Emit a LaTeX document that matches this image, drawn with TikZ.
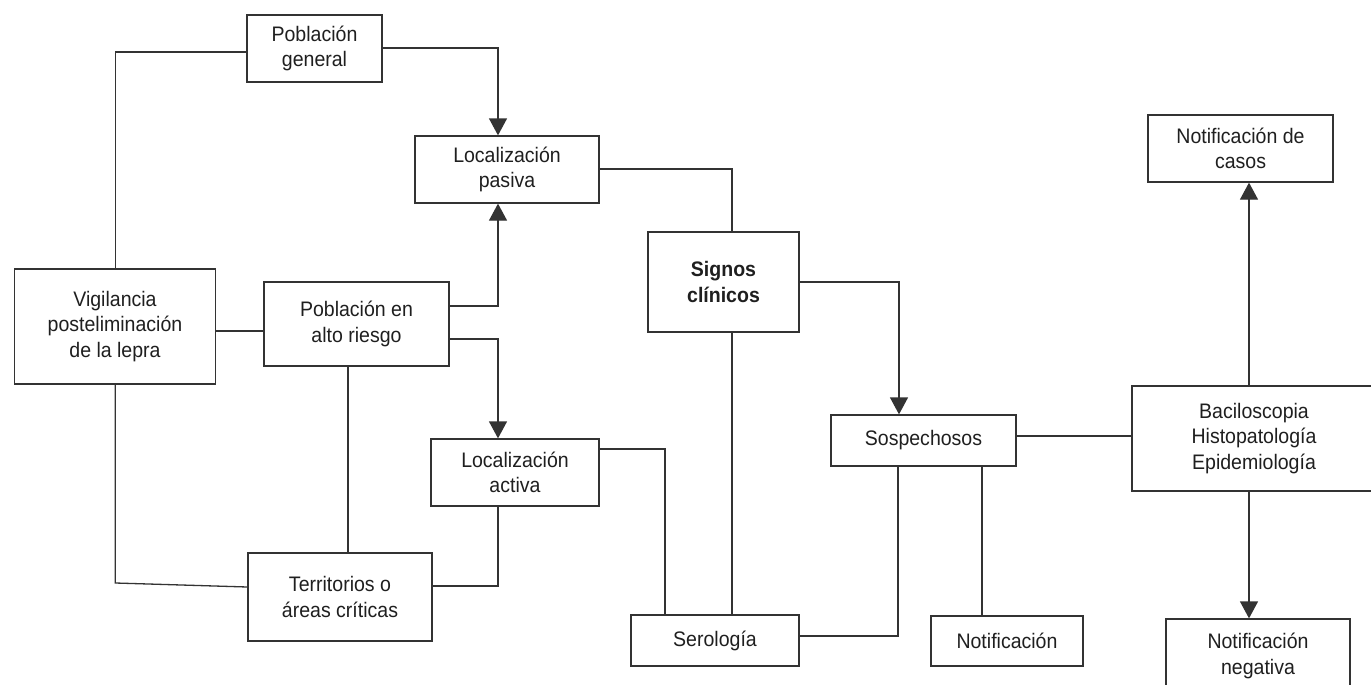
\documentclass[tikz,border=0pt]{standalone}
\usepackage{fontspec}
\setmainfont{Liberation Sans}[FakeStretch=0.93]
\usetikzlibrary{arrows.meta}
\begin{document}
\begin{tikzpicture}[x=1pt,y=-1pt,
  box/.style={draw=black!80, line width=1.3pt, inner sep=0pt, align=center,
    font=\fontsize{21}{25.5}\selectfont, text=black!88},
  conn/.style={draw=black!80, line width=1.3pt},
  arr/.style={conn, -{Triangle[width=18pt,length=17pt]}}]
\fill[white] (0,0) rectangle (1371,685);
\useasboundingbox (0,0) rectangle (1371,685);
\clip (0,0) rectangle (1371,685);

% nodes
\node[box, minimum width=135pt, minimum height=67pt] (pg) at (314.5,48.5) {Población\\general};
\node[box, minimum width=184pt, minimum height=67pt] (lp) at (507,169.5) {Localización\\pasiva};
\node[box, minimum width=201pt, minimum height=115pt] (vig) at (115,326.5) {Vigilancia\\posteliminación\\de la lepra};
\node[box, minimum width=185pt, minimum height=84pt] (par) at (356.5,324) {Población en\\alto riesgo};
\node[box, minimum width=151pt, minimum height=100pt, font=\fontsize{21}{25.5}\selectfont\bfseries] (sc) at (723.5,282) {Signos\\clínicos};
\node[box, minimum width=168pt, minimum height=67pt] (la) at (515,472.5) {Localización\\activa};
\node[box, minimum width=184pt, minimum height=88pt] (ter) at (340,597) {Territorios o\\áreas críticas};
\node[box, minimum width=168pt, minimum height=51pt] (ser) at (715,640.5) {Serología};
\node[box, minimum width=185pt, minimum height=51pt] (sos) at (923.5,440.5) {Sospechosos};
\node[box, minimum width=152pt, minimum height=50pt] (not) at (1007,641) {Notificación};
\node[box, minimum width=244pt, minimum height=105pt] (bac) at (1254,438.5) {Baciloscopia\\Histopatología\\Epidemiología};
\node[box, minimum width=185pt, minimum height=67pt] (ndc) at (1240.5,148.5) {Notificación de\\casos};
\node[box, minimum width=184pt, minimum height=74pt] (nn) at (1258,656) {Notificación\\negativa};

% connectors
\draw[arr] (pg.east |- 0,48) -| (lp.north -| 498,0);
\draw[conn] (pg.west |- 0,52) -| (vig.north -| 115.3,0);
\draw[conn, line width=1.7pt] (lp.east |- 0,169) -| (sc.north -| 732,0);
\draw[arr] (sc.east) -| (sos.north -| 899,0);
\draw[conn] (sc.south -| 732,0) -- (ser.north -| 732,0);
\draw[conn] (vig.east |- 0,331) -- (par.west |- 0,331);
\draw[arr] (par.east |- 0,306) -| (lp.south -| 498,0);
\draw[arr] (par.east |- 0,339) -| (la.north -| 498,0);
\draw[conn] (par.south -| 348,0) -- (ter.north -| 348,0);
\coordinate (vbend) at (115.3,583);
\draw[conn] (vig.south -| 115.3,0) -- (vbend) -- (ter.west |- 0,587);
\draw[conn] (ter.east |- 0,586) -| (la.south -| 498,0);
\draw[conn] (la.east |- 0,449) -| (ser.north -| 665,0);
\draw[conn] (sos.south -| 898,0) |- (ser.east |- 0,636);
\draw[conn] (sos.south -| 982,0) -- (not.north -| 982,0);
\draw[conn] (sos.east |- 0,436) -- (bac.west |- 0,436);
\draw[arr] (bac.north -| 1249,0) -- (ndc.south -| 1249,0);
\draw[arr] (bac.south -| 1249,0) -- (nn.north -| 1249,0);
\end{tikzpicture}
\end{document}
